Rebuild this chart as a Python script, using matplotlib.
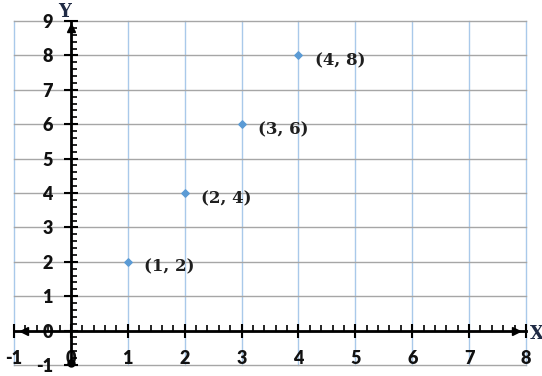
import matplotlib.pyplot as plt
import numpy as np
from matplotlib.ticker import MultipleLocator

plt.rcParams['axes.unicode_minus'] = False

# Data points
xs = [1, 2, 3, 4]
ys = [2, 4, 6, 8]
labels = ['(1, 2)', '(2, 4)', '(3, 6)', '(4, 8)']
x_ticks = [-1, 0, 1, 2, 3, 4, 5, 6, 7, 8]
y_ticks = [-1, 0, 1, 2, 3, 4, 5, 6, 7, 8, 9]

fig = plt.figure(figsize=(5.42, 3.76), dpi=100)
ax = fig.add_axes([14 / 542, 11 / 376, 512 / 542, 344 / 376])
ax.set_xlim(-1, 8)
ax.set_ylim(-1, 9)

# Grid: blue verticals, gray horizontals
for xv in x_ticks:
    ax.axvline(xv, color='#A9C9EA', lw=1.0, zorder=0, clip_on=False)
for yv in y_ticks:
    ax.axhline(yv, color='#A6A6A6', lw=1.0, zorder=0, clip_on=False)

# Axis lines through the origin
for side in ['top', 'right']:
    ax.spines[side].set_visible(False)
ax.spines['left'].set_position(('data', 0))
ax.spines['bottom'].set_position(('data', 0))
for side in ['left', 'bottom']:
    ax.spines[side].set_linewidth(2.0)
    ax.spines[side].set_color('black')
    ax.spines[side].set_zorder(3)

ax.set_xticks(x_ticks)
ax.set_yticks(y_ticks)
ax.xaxis.set_minor_locator(MultipleLocator(0.2))
ax.yaxis.set_minor_locator(MultipleLocator(0.2))
ax.tick_params(which='major', direction='inout', length=10, width=1.5, color='black')
ax.tick_params(which='minor', direction='in', length=4, width=1.2, color='black')
ax.tick_params(axis='x', which='major', pad=9)
ax.tick_params(axis='y', which='major', pad=8)
for lab in ax.get_xticklabels() + ax.get_yticklabels():
    lab.set_fontfamily('Lato')
    lab.set_fontweight('heavy')
    lab.set_fontsize(13)
    lab.set_color('#111111')

# Arrow heads
ax.plot(0, 8.8, marker='^', color='black', ms=6, clip_on=False, zorder=4)
ax.plot(0, -0.95, marker='o', color='black', ms=5, clip_on=False, zorder=4)
ax.plot(-0.82, 0, marker='<', color='black', ms=6, clip_on=False, zorder=4)
ax.plot(7.82, 0, marker='>', color='black', ms=6, clip_on=False, zorder=4)

# Points and labels
ax.scatter(xs, ys, marker='D', s=14, color='#5B9BD5', zorder=5)
for x, y, t in zip(xs, ys, labels):
    ax.annotate(t, (x, y), xytext=(12, -4), textcoords='offset points',
                fontfamily='DejaVu Serif', fontweight='bold', fontsize=12,
                color='#1f1f1f', va='center', ha='left')

# Axis names
ax.text(-0.11, 9.0, 'Y', fontfamily='DejaVu Serif', fontweight='bold',
        fontsize=13, color='#1F2A44', ha='center', va='bottom')
ax.text(8.06, -0.1, 'X', fontfamily='DejaVu Serif', fontweight='bold',
        fontsize=13, color='#1F2A44', ha='left', va='center')

fig.savefig('out.png', dpi=100)
